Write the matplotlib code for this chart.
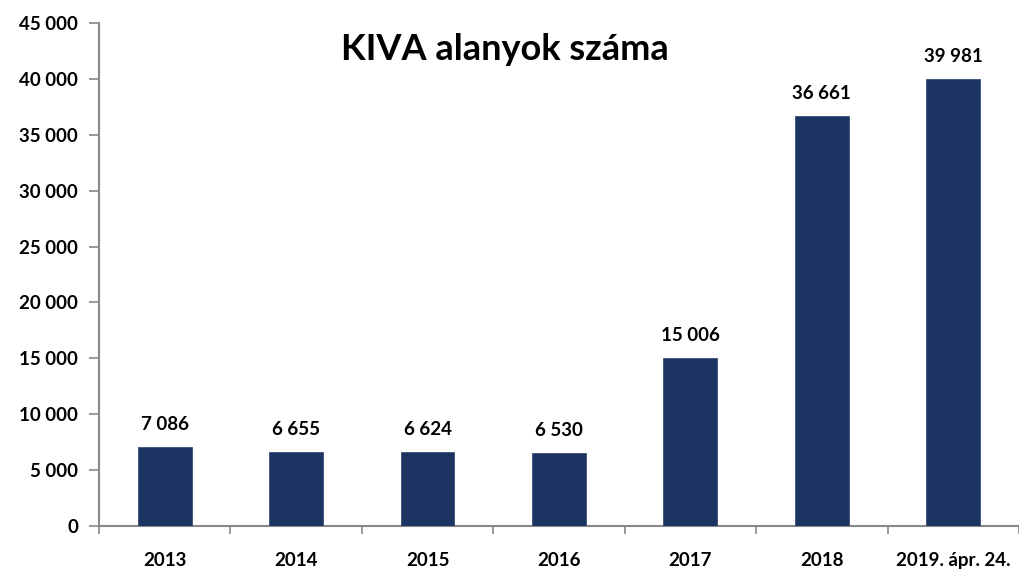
import matplotlib
matplotlib.use("Agg")
import matplotlib.pyplot as plt
from matplotlib.ticker import FuncFormatter, MultipleLocator, FixedLocator

categories = ["2013", "2014", "2015", "2016", "2017", "2018", "2019. ápr. 24."]
values = [7086, 6655, 6624, 6530, 15006, 36661, 39981]
title = "KIVA alanyok száma"

plt.rcParams['font.family'] = ['Lato', 'DejaVu Sans']
plt.rcParams['font.weight'] = 'bold'

fig = plt.figure(figsize=(10.2, 5.72), dpi=100)
ax = fig.add_axes([0.097, 0.0804, 0.902, 0.8794])

x = list(range(len(categories)))
bars = ax.bar(x, values, width=0.41, color="#1C3461", edgecolor="#3A4F7A", linewidth=0.6, zorder=3)

def fmt(v):
    return f"{int(v):,}".replace(",", " ")

for xi, v in zip(x, values):
    ax.annotate(fmt(v), (xi, v), xytext=(0, 10), textcoords="offset points",
                ha="center", va="bottom", fontsize=13.5, fontweight="bold", color="black")

ax.set_xlim(-0.5, len(categories) - 0.5)
ax.set_ylim(0, 45000)
ax.yaxis.set_major_locator(MultipleLocator(5000))
ax.yaxis.set_major_formatter(FuncFormatter(lambda v, p: fmt(v)))

ax.set_xticks(x)
ax.set_xticklabels(categories)
ax.xaxis.set_minor_locator(FixedLocator([i - 0.5 for i in range(len(categories) + 1)]))
ax.tick_params(axis="x", which="major", length=0, pad=19, labelsize=13.5)
ax.tick_params(axis="x", which="minor", length=6, color="#888888", width=1.2, direction="out")
ax.tick_params(axis="y", which="major", length=7, color="#888888", width=1.2, labelsize=13.5, pad=8)
for lbl in ax.get_xticklabels() + ax.get_yticklabels():
    lbl.set_fontweight("bold")

for s in ["top", "right"]:
    ax.spines[s].set_visible(False)
for s in ["left", "bottom"]:
    ax.spines[s].set_color("#888888")
    ax.spines[s].set_linewidth(1.5)

fig.text(0.495, 0.913, title, ha="center", va="center", fontsize=26, fontweight="bold")

fig.savefig("out.png", dpi=100)
